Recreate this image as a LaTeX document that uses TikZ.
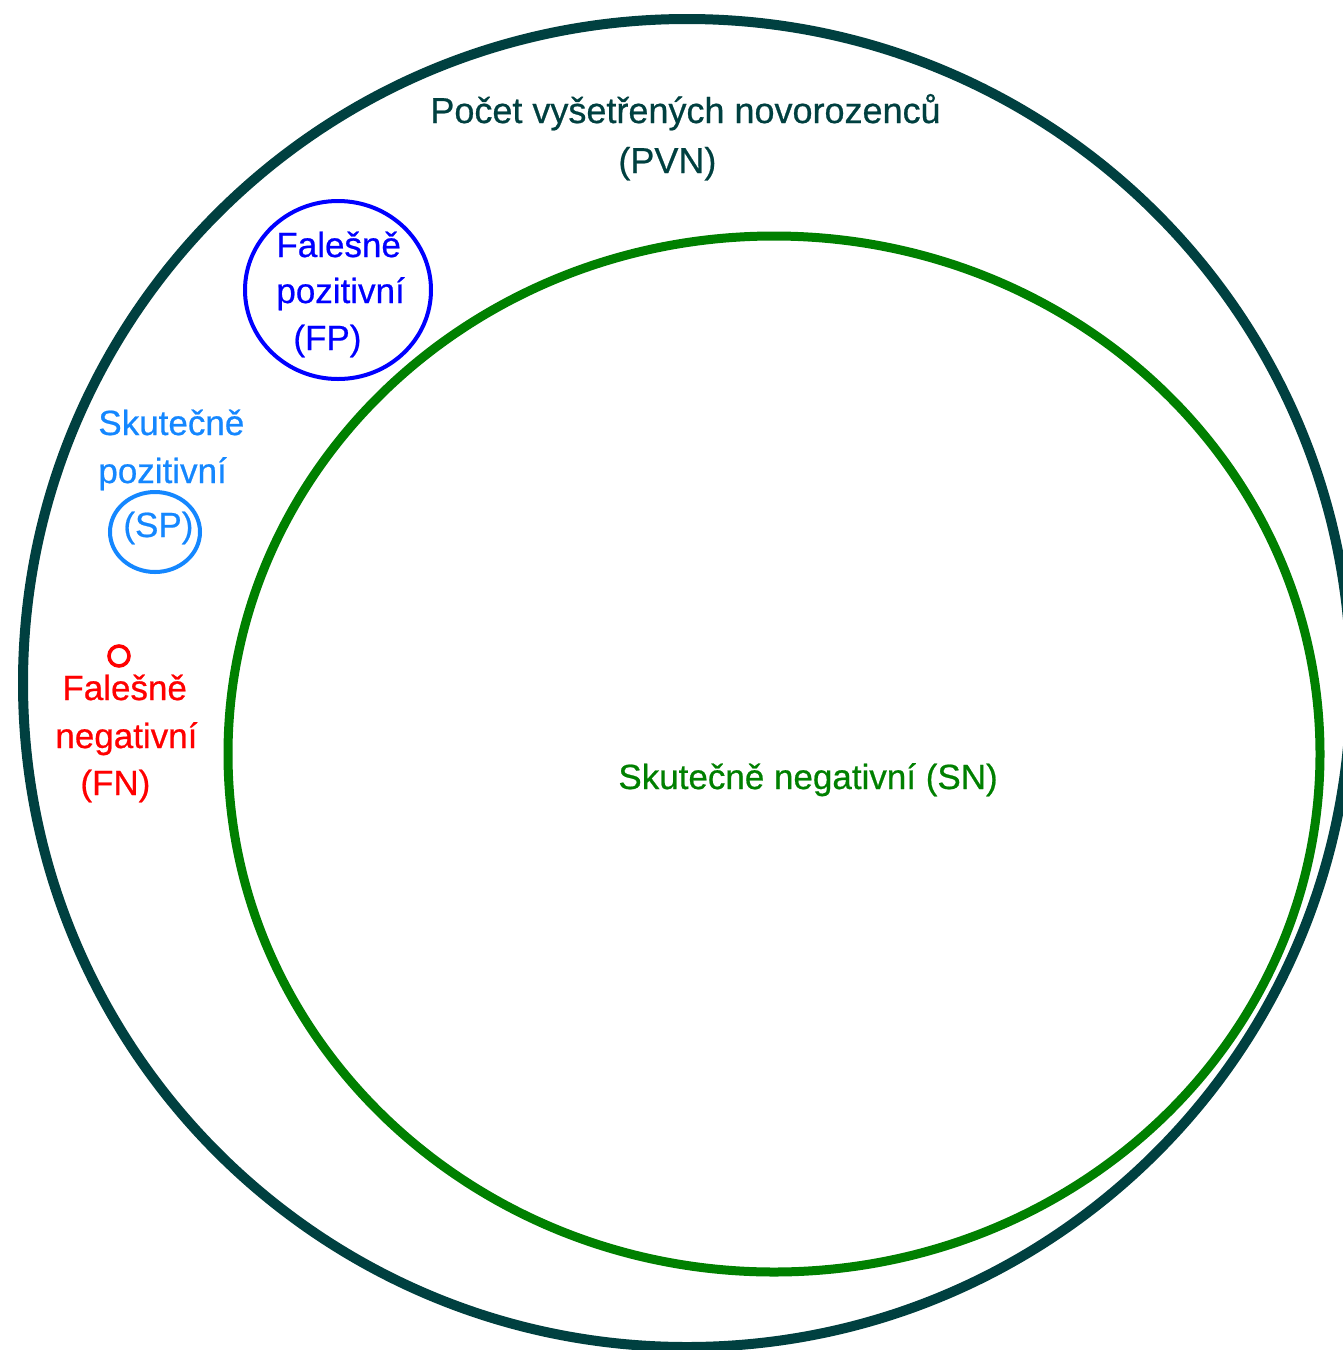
\documentclass[tikz,border=0pt]{standalone}
\usepackage{fontspec}
\setmainfont{Liberation Sans}[FakeBold=0.6,AutoFakeBold=0.6]
\definecolor{pvn}{RGB}{0,64,64}
\definecolor{sn}{RGB}{0,128,0}
\definecolor{fp}{RGB}{0,0,255}
\definecolor{sp}{RGB}{20,135,255}
\definecolor{fn}{RGB}{255,0,0}
\tikzset{
  lbl/.style={anchor=base west, inner sep=0pt, font=\fontsize{17.5}{20}\selectfont\bfseries},
  ttl/.style={anchor=base west, inner sep=0pt, font=\fontsize{18}{21}\selectfont\bfseries},
}
\begin{document}
\begin{tikzpicture}[x=0.5pt,y=-0.5pt]
\useasboundingbox (0,0) rectangle (1343,1350);
\clip (0,0) rectangle (1343,1350);
\fill[white] (0,0) rectangle (1343,1350);
% outer set
\draw[pvn, line width=5pt] (687,683) circle [radius=664];
% true negatives
\draw[sn, line width=4.5pt] (774,754) ellipse [x radius=546, y radius=518];
% false positives
\draw[fp, line width=2pt] (338,290) ellipse [x radius=93, y radius=89];
% true positives
\draw[sp, line width=2pt] (155,532) ellipse [x radius=45, y radius=40];
% false negatives
\draw[fn, line width=1.8pt] (119,656) circle [radius=10];
% labels
\node[ttl, text=pvn] (pvn1) at (430,123) {Počet vyšetřených novorozenců};
\node[ttl, text=pvn] (pvn2) at (618,173) {(PVN)};
\node[lbl, text=fp] (fp1) at (276,257) {Falešně};
\node[lbl, text=fp] (fp2) at (276,303) {pozitivní};
\node[lbl, text=fp] (fp3) at (293,350) {(FP)};
\node[lbl, text=sp] (sp1) at (98,435) {Skutečně};
\node[lbl, text=sp] (sp2) at (98,483) {pozitivní};
\node[lbl, text=sp] (sp3) at (123,537) {(SP)};
\node[lbl, text=fn] (fn1) at (62,700) {Falešně};
\node[lbl, text=fn] (fn2) at (55,748) {negativní};
\node[lbl, text=fn] (fn3) at (80,795) {(FN)};
\node[lbl, text=sn] (sn1) at (618,789) {Skutečně negativní (SN)};
\end{tikzpicture}
\end{document}
